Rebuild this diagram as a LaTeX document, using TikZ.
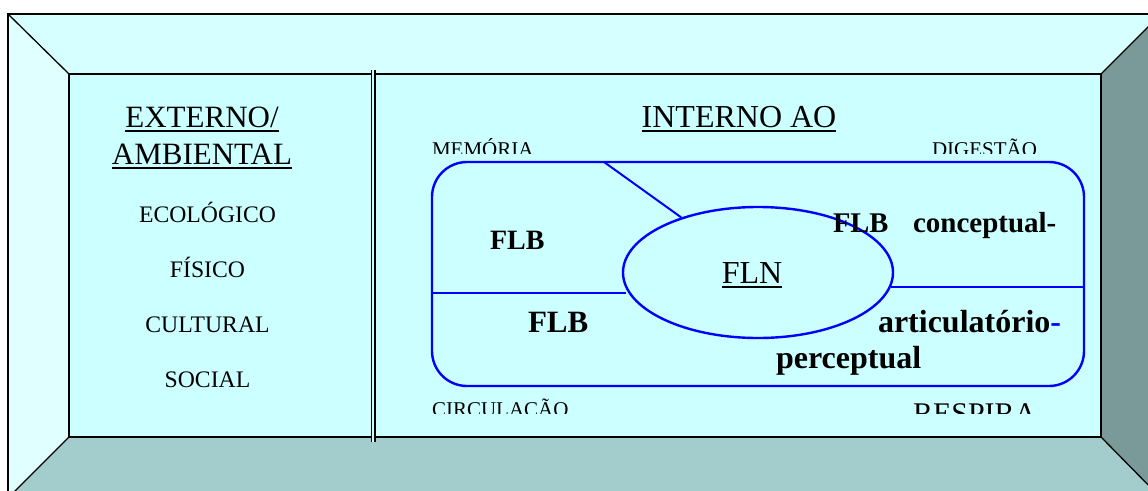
\documentclass[tikz,border=0pt]{standalone}
\usepackage{fontspec}
\setmainfont{Liberation Serif}
\usetikzlibrary{shapes.geometric}

\definecolor{ceilfill}{RGB}{214,255,255}
\definecolor{leftfill}{RGB}{224,255,255}
\definecolor{backfill}{RGB}{204,255,255}
\definecolor{floorfill}{RGB}{163,204,204}
\definecolor{rightfill}{RGB}{122,153,153}
\definecolor{frameblue}{RGB}{0,0,255}

% underline drawn as a rule of fixed depth and thickness
\newsavebox\ulsave
\newcommand\ulbox[1]{\sbox\ulsave{#1}\rlap{\rule[-4.5pt]{\wd\ulsave}{1.4pt}}\usebox\ulsave}

\tikzset{
  wall/.style={draw=black, line width=1.3pt, line join=miter},
  edge/.style={draw=black, line width=1.3pt},
  txt/.style={inner sep=0pt, outer sep=0pt, anchor=base},
  txtw/.style={inner sep=0pt, outer sep=0pt, anchor=base west},
  blueline/.style={draw=frameblue, line width=2pt},
  sz/.style={font=\fontsize{#1}{#1}\selectfont},
  bsz/.style={font=\fontsize{#1}{#1}\selectfont\bfseries},
}

\begin{document}
\begin{tikzpicture}[x=1pt,y=-1pt]
\useasboundingbox (0,0) rectangle (1148,490);

% room corners: outer frame and back wall
\coordinate (o1) at (8,14);
\coordinate (o2) at (1161,14);
\coordinate (o3) at (1161,498);
\coordinate (o4) at (8,498);
\coordinate (i1) at (69,74);
\coordinate (i2) at (1101,74);
\coordinate (i3) at (1101,437);
\coordinate (i4) at (69,437);

\begin{scope}
  \clip (0,0) rectangle (1148,490);
  \fill[ceilfill]  (o1) -- (o2) -- (i2) -- (i1) -- cycle;
  \fill[leftfill]  (o1) -- (i1) -- (i4) -- (o4) -- cycle;
  \fill[rightfill] (o2) -- (o3) -- (i3) -- (i2) -- cycle;
  \fill[floorfill] (o4) -- (i4) -- (i3) -- (o3) -- cycle;
  \fill[backfill]  (i1) rectangle (i3);
  \draw[wall] (o1) rectangle (o3);
  \draw[wall] (i1) rectangle (i3);
  \draw[edge] (o1) -- (i1);
  \draw[edge] (o2) -- (i2);
  \draw[edge] (o3) -- (i3);
  \draw[edge] (o4) -- (i4);
\end{scope}

% double divider between the two areas
\coordinate (dtop) at (373,70);
\coordinate (dbot) at (373,442);
\draw[line width=1.3pt, double=backfill, double distance=2.4pt] (dtop) -- (dbot);

% left column
\node[txt, sz=31] (ext) at (202,127) {\ulbox{EXTERNO/}};
\node[txt, sz=31] (amb) at (202,164) {\ulbox{AMBIENTAL}};
\node[txt, sz=23.7] (eco) at (207.5,222) {ECOLÓGICO};
\node[txt, sz=23.7] (fis) at (207.5,277) {FÍSICO};
\node[txt, sz=23.7] (cul) at (207.5,332) {CULTURAL};
\node[txt, sz=23.7] (soc) at (207.5,387) {SOCIAL};

% right column
\node[txt, sz=32] (int) at (739,127) {\ulbox{INTERNO AO}};

\node[draw=frameblue, line width=2.4pt, rounded corners=35pt,
      minimum width=652pt, minimum height=224pt, inner sep=0pt] (frame) at (758,274) {};
\node[ellipse, draw=frameblue, line width=2.4pt, minimum width=270pt,
      minimum height=131pt, inner sep=0pt] (fln) at (758,272.5) {};

\coordinate (ta) at (604,162);
\coordinate (la) at (432,293);
\coordinate (lb) at (626,293);
\coordinate (ra) at (891,287);
\coordinate (rb) at (1084,287);
\draw[blueline] (ta) -- (fln);
\draw[blueline] (la) -- (lb);
\draw[blueline] (ra) -- (rb);

\node[txt, sz=32] (flnt) at (752,283) {\ulbox{FLN}};

\node[txtw, bsz=28] (flb1) at (490,249) {FLB};
\node[txtw, bsz=28.5] (flb2) at (833,232) {FLB};
\node[txtw, bsz=29] (conc) at (913,232) {conceptual-};
\node[txtw, bsz=31] (flb3) at (528,332) {FLB};
\node[txtw, bsz=32] (artc) at (878,332) {articulatório\textcolor{frameblue}{-}};
\node[txtw, bsz=32] (perc) at (776,368) {perceptual};

% labels cut off by their text boxes
\begin{scope}
  \clip (420,130) rectangle (560,153);
  \node[txtw, sz=21] (mem) at (432,156) {MEMÓRIA};
\end{scope}
\begin{scope}
  \clip (920,130) rectangle (1060,153);
  \node[txtw, sz=21] (dig) at (932,156) {DIGESTÃO};
\end{scope}
\begin{scope}
  \clip (420,390) rectangle (600,413);
  \node[txtw, sz=21] (cir) at (432,416) {CIRCULAÇÃO};
\end{scope}
\begin{scope}
  \clip (900,390) rectangle (1060,413);
  \node[txtw, sz=30] (res) at (913,423) {RESPIRA};
\end{scope}
\end{tikzpicture}
\end{document}
